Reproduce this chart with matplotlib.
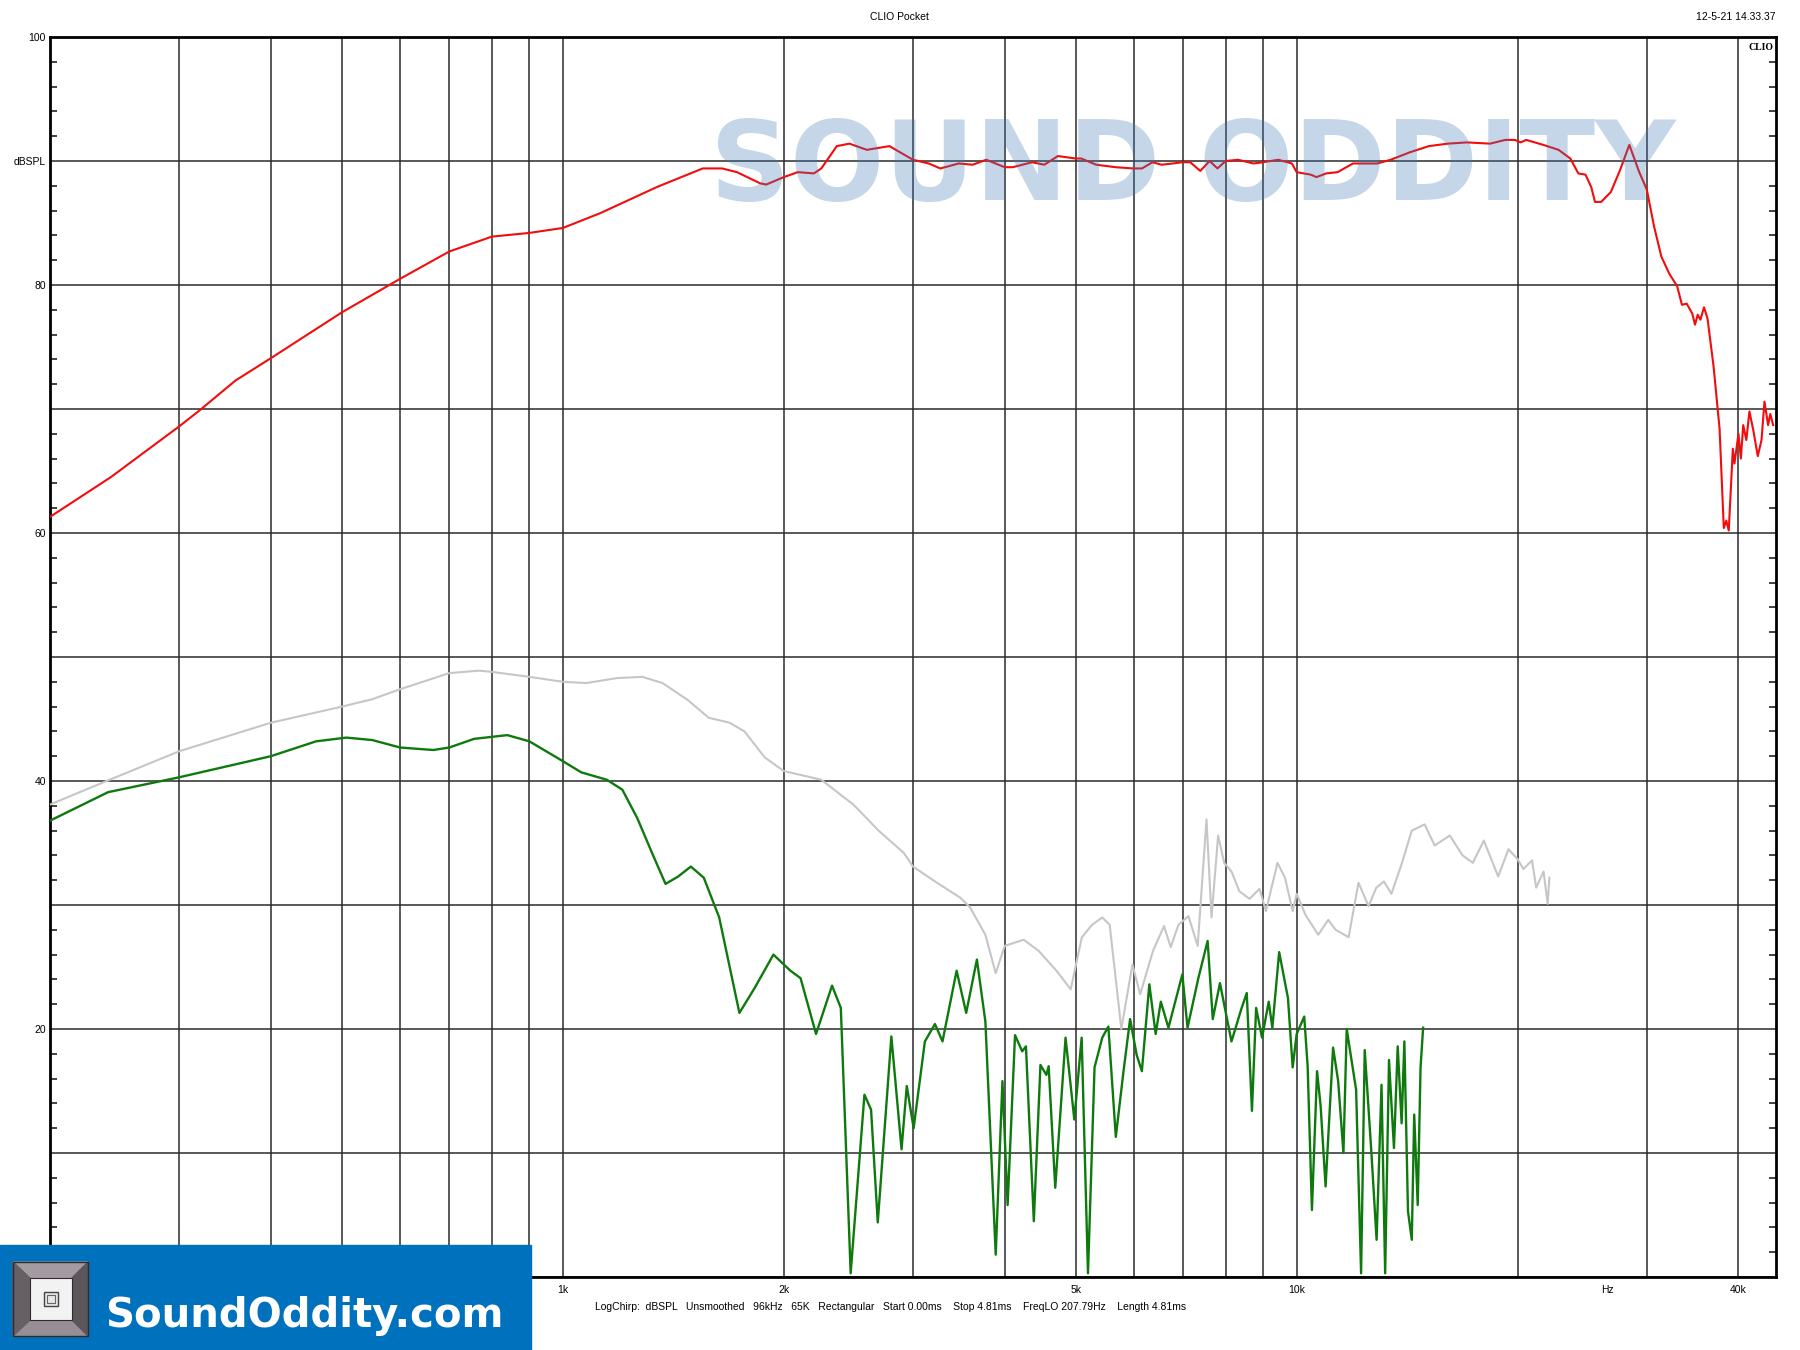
import numpy as np
import matplotlib
matplotlib.use("Agg")
import matplotlib.pyplot as plt
from matplotlib.patches import Rectangle, Polygon

# --- data (Hz, dBSPL) ---
red_freq = [200, 242, 300, 320, 358, 400, 500, 600, 700, 800, 900, 1000, 1125,
            1343, 1551, 1648, 1727, 1857, 1893, 2000, 2090, 2198, 2250, 2362,
            2458, 2595, 2786, 3000, 3152, 3269, 3463, 3617, 3776, 4000, 4103,
            4358, 4530, 4727, 5000, 5086, 5330, 5665, 5982, 6155, 6359, 6545,
            6783, 6980, 7160, 7390, 7610, 7800, 8000, 8320, 8730, 9000, 9440,
            9850, 10000, 10450, 10640, 10970, 11370, 11930, 12880, 13430, 14260,
            15140, 16070, 17060, 18350, 19240, 19830, 20190, 20550, 21680, 22750,
            23600, 24200, 24750, 25200, 25500, 26000, 26800, 27600, 28400, 29300,
            30000, 30700, 31400, 32200, 33000, 33500, 34000, 34600, 34900, 35200,
            35500, 35900, 36300, 37000, 37700, 38200, 38500, 38800, 39300, 39500,
            40000, 40300, 40600, 41000, 41400, 41900, 42500, 43000, 43400, 43900,
            44200, 44600]
red_db = [61.3, 64.5, 68.6, 69.9, 72.3, 74.1, 77.8, 80.5, 82.7, 83.9, 84.2, 84.6, 85.8,
          87.9, 89.4, 89.4, 89.1, 88.2, 88.1, 88.7, 89.1, 89.0, 89.4, 91.2,
          91.4, 90.9, 91.2, 90.1, 89.8, 89.4, 89.8, 89.7, 90.1, 89.5, 89.5,
          89.9, 89.7, 90.4, 90.2, 90.2, 89.7, 89.5, 89.4, 89.4, 89.9, 89.7,
          89.8, 89.9, 89.9, 89.2, 90.0, 89.4, 90.0, 90.1, 89.8, 89.9, 90.1,
          89.8, 89.1, 88.9, 88.7, 89.0, 89.1, 89.8, 89.8, 90.1, 90.7,
          91.2, 91.4, 91.5, 91.4, 91.7, 91.7, 91.5, 91.7, 91.3, 90.9,
          90.2, 89.0, 88.9, 87.9, 86.7, 86.7, 87.5, 89.3, 91.3, 89.1,
          87.7, 84.7, 82.3, 80.9, 79.9, 78.4, 78.5, 77.7, 76.8, 77.6,
          77.2, 78.2, 77.3, 73.4, 68.4, 60.4, 61.0, 60.2, 66.8, 65.6,
          68.0, 66.0, 68.7, 67.5, 69.8, 68.3, 66.2, 67.5, 70.6, 68.7,
          69.6, 68.7]

gray_freq = [200, 240, 300, 400, 500, 550, 600, 700, 769, 800, 900, 1000, 1076,
             1185, 1283, 1367, 1482, 1580, 1687, 1768, 1884, 2000, 2141, 2250,
             2389, 2488, 2693, 2915, 3000, 3214, 3478, 3589, 3765, 3889, 4000,
             4246, 4450, 4706, 4921, 5096, 5262, 5433, 5561, 5768, 5973, 6119,
             6371, 6595, 6735, 6900, 7120, 7330, 7535, 7655, 7815, 7965, 8150,
             8355, 8625, 8900, 9080, 9415, 9640, 9875, 10000, 10280, 10700,
             11040, 11300, 11770, 12140, 12530, 12840, 13150, 13460, 13900,
             14350, 14940, 15420, 16170, 16830, 17380, 17990, 18820, 19440,
             20000, 20370, 20930, 21200, 21700, 21980, 22100]
gray_db = [38.1, 40.05, 42.4, 44.7, 46.0, 46.6, 47.4, 48.7, 48.9, 48.8, 48.4, 48.0, 47.9,
           48.3, 48.4, 47.9, 46.5, 45.1, 44.7, 44.0, 41.9, 40.8, 40.4, 40.1,
           38.9, 38.1, 36.0, 34.2, 33.1, 31.9, 30.6, 29.8, 27.6, 24.5, 26.7,
           27.2, 26.3, 24.7, 23.2, 27.4, 28.4, 29.0, 28.4, 20.0, 25.2, 22.8,
           26.3, 28.3, 26.6, 28.4, 29.1, 26.7, 36.9, 29.0, 35.6, 33.4, 32.7,
           31.1, 30.5, 31.3, 29.5, 33.4, 32.2, 29.5, 30.9, 29.2, 27.6,
           28.8, 28.0, 27.4, 31.8, 29.9, 31.4, 31.9, 30.9, 33.3,
           36.0, 36.5, 34.8, 35.6, 34.0, 33.4, 35.2, 32.3, 34.5,
           33.7, 32.9, 33.6, 31.4, 32.7, 30.1, 32.2]

green_freq = [200, 240, 300, 400, 461, 507, 550, 600, 666, 700, 757, 840, 900,
              1000, 1059, 1148, 1205, 1263, 1325, 1380, 1436, 1494, 1556, 1633,
              1740, 1825, 1936, 2042, 2108, 2213, 2327, 2392, 2467, 2576, 2630,
              2686, 2803, 2894, 2942, 3006, 3114, 3214, 3291, 3440, 3545, 3666,
              3765, 3889, 3972, 4037, 4132, 4226, 4276, 4383, 4475, 4559, 4592,
              4688, 4842, 4977, 5093, 5195, 5303, 5433, 5538, 5669, 5808, 5929,
              6053, 6152, 6298, 6424, 6529, 6687, 6985, 7100, 7345, 7562, 7685,
              7860, 8150, 8414, 8550, 8690, 8805, 8970, 9160, 9265, 9465, 9730,
              9875, 10000, 10240, 10350, 10490, 10660, 10780, 10950, 11210, 11390,
              11580, 11700, 12050, 12240, 12380, 12640, 12850, 13050, 13200, 13360,
              13570, 13730, 13900, 14020, 14180, 14350, 14460, 14620, 14750, 14870]
green_db = [36.8, 39.1, 40.3, 42.0, 43.2, 43.5, 43.3, 42.7, 42.5, 42.7, 43.4, 43.7, 43.2,
            41.6, 40.7, 40.1, 39.3, 37.0, 34.1, 31.7, 32.3, 33.1, 32.2, 29.0,
            21.3, 23.3, 26.0, 24.7, 24.1, 19.6, 23.5, 21.7, 0.3, 14.7, 13.5,
            4.4, 19.4, 10.3, 15.4, 12.0, 19.0, 20.4, 19.0, 24.7, 21.3, 25.6,
            20.6, 1.8, 15.8, 5.8, 19.5, 18.2, 18.6, 4.5, 17.1, 16.3, 17.0,
            7.2, 19.3, 12.7, 19.3, 0.3, 16.9, 19.3, 20.2, 11.3, 16.6, 20.8,
            17.9, 16.6, 23.6, 19.6, 22.2, 20.1, 24.4, 20.1, 24.1, 27.1, 20.8,
            23.7, 19.0, 21.7, 22.9, 13.4, 21.7, 19.3, 22.2, 20.1, 26.2, 22.5,
            16.9, 19.6, 21.0, 17.0, 5.4, 16.6, 13.8, 7.3, 18.5, 15.8,
            10.0, 20.0, 15.1, 0.3, 18.3, 10.1, 3.0, 15.5, 0.3, 17.5,
            10.4, 18.6, 12.4, 19.0, 5.3, 3.0, 13.1, 5.8, 16.9, 20.1]

grid_freqs = [300, 400, 500, 600, 700, 800, 900, 1000, 2000, 3000, 4000, 5000,
              6000, 7000, 8000, 9000, 10000, 20000, 30000, 40000]
x_labels = {1000: "1k", 2000: "2k", 5000: "5k", 10000: "10k", 40000: "40k"}
y_labels = {100: "100", 90: "dBSPL", 80: "80", 60: "60", 40: "40", 20: "20"}
unit_freq = 26500  # where the "Hz" unit label sits

W, H = 1800, 1350
plt.rcParams["font.family"] = ["Liberation Sans Narrow", "Liberation Sans", "DejaVu Sans"]

fig = plt.figure(figsize=(W / 100, H / 100), dpi=100)
fig.patch.set_facecolor("white")

# plot area in pixels: left 50, right 1776, top 37, bottom 1277
ax = fig.add_axes([50 / W, 1 - 1277 / H, 1726 / W, 1240 / H])
ax.set_xscale("log")
ax.set_xlim(200, 45000)
ax.set_ylim(0, 100)

ax.plot(gray_freq, gray_db, color="#c6c6c6", lw=1.5, zorder=3)
ax.plot(green_freq, green_db, color="#0e7a0e", lw=1.7, zorder=4)
ax.plot(red_freq, red_db, color="#f20c0c", lw=1.5, zorder=5)

ax.set_xticks(grid_freqs)
ax.set_xticklabels([x_labels.get(f, "") for f in grid_freqs])
ax.xaxis.set_minor_locator(matplotlib.ticker.NullLocator())
yt = list(range(0, 101, 10))
ax.set_yticks(yt)
ax.set_yticklabels([y_labels.get(v, "") for v in yt])
ax.set_yticks(np.arange(0, 101, 2), minor=True)
ax.tick_params(which="major", length=0, labelsize=7.5, pad=3)
ax.tick_params(axis="x", which="major", pad=6)
ax.tick_params(axis="y", which="minor", direction="in", length=5, width=1.2,
               left=True, right=True, color="#222222")
ax.grid(True, which="major", color="#2b2b2b", lw=1.1)
ax.set_axisbelow(True)
for s in ax.spines.values():
    s.set_linewidth(2)
    s.set_color("black")

# unit label on the frequency axis, same offset as the tick labels
ax.annotate("Hz", xy=(unit_freq, 0), xycoords=ax.get_xaxis_transform(),
            xytext=(0, -6), textcoords="offset points",
            ha="center", va="top", fontsize=7.5)

# watermark over the curves
ax.text(0.662, 0.893, "SOUND ODDITY", transform=ax.transAxes, ha="center",
        va="center", fontsize=80, fontweight="bold", family="DejaVu Sans",
        color="#417ab9", alpha=0.3, zorder=6)
ax.text(0.9985, 0.995, "CLIO", transform=ax.transAxes, ha="right", va="top",
        fontsize=7, fontweight="bold", family="Liberation Serif", zorder=7)

fig.text(899 / W, 1 - 17 / H, "CLIO Pocket", ha="center", va="center", fontsize=7.5)
fig.text(1776 / W, 1 - 17 / H, "12-5-21 14.33.37", ha="right", va="center", fontsize=7.5)
fig.text(595 / W, 1 - 1307 / H,
         "LogChirp:  dBSPL   Unsmoothed   96kHz   65K   Rectangular   Start 0.00ms"
         "    Stop 4.81ms    FreqLO 207.79Hz    Length 4.81ms",
         ha="left", va="center", fontsize=7.5)

# SoundOddity logo box, bottom left (pixel coordinates)
ov = fig.add_axes([0, 0, 1, 1], zorder=10)
ov.set_xlim(0, W)
ov.set_ylim(H, 0)
ov.axis("off")
ov.add_patch(Rectangle((0, 1245), 531, 105, color="#0071bc"))
ox0, oy0, ox1, oy1 = 13, 1262, 88, 1336
ix0, iy0, ix1, iy1 = 30, 1278, 72, 1320
ov.add_patch(Polygon([(ox0, oy0), (ox1, oy0), (ix1, iy0), (ix0, iy0)], color="#a39ba1"))
ov.add_patch(Polygon([(ox0, oy1), (ox1, oy1), (ix1, iy1), (ix0, iy1)], color="#968e94"))
ov.add_patch(Polygon([(ox0, oy0), (ix0, iy0), (ix0, iy1), (ox0, oy1)], color="#665f64"))
ov.add_patch(Polygon([(ox1, oy0), (ix1, iy0), (ix1, iy1), (ox1, oy1)], color="#5c555a"))
ov.add_patch(Rectangle((ox0, oy0), ox1 - ox0, oy1 - oy0, fill=False, ec="#2e2a2d", lw=1))
ov.add_patch(Rectangle((ix0, iy0), ix1 - ix0, iy1 - iy0, fc="#f2f2f2", ec="#2e2a2d", lw=0.8))
ov.add_patch(Rectangle((44, 1292), 14, 14, fc="#e8e8e8", ec="#444444", lw=1.0))
ov.add_patch(Rectangle((47, 1295), 8, 8, fc="none", ec="#666666", lw=0.8))
ov.text(105, 1316, "SoundOddity.com", ha="left", va="center", color="white",
        fontsize=29, fontweight="bold", family="DejaVu Sans")

fig.savefig("out.png", dpi=100)
